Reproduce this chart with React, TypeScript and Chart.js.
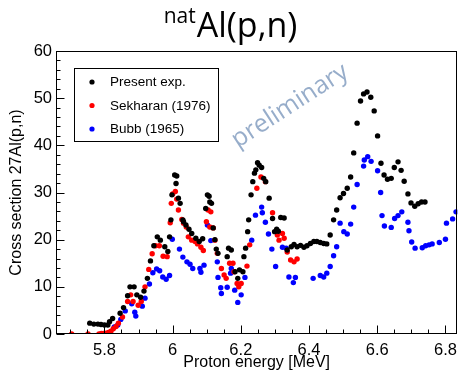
import { useEffect, useRef } from 'react';
import { Chart, registerables } from 'chart.js';
Chart.register(...registerables);

const W = 464;
const H = 370;

const X_MIN = 5.658;
const X_MAX = 6.835;
const Y_MIN = 0;
const Y_MAX = 60;

const X_MAJOR_TICKS = [5.8, 6.0, 6.2, 6.4, 6.6, 6.8];
const X_MINOR_TICKS = [5.7, 5.75, 5.85, 5.9, 5.95, 6.05, 6.1, 6.15, 6.25, 6.3, 6.35, 6.45, 6.5, 6.55, 6.65, 6.7, 6.75];
const Y_MAJOR_TICKS = [0, 10, 20, 30, 40, 50, 60];
const Y_MINOR_TICKS = [2, 4, 6, 8, 12, 14, 16, 18, 22, 24, 26, 28, 32, 34, 36, 38, 42, 44, 46, 48, 52, 54, 56, 58];

const SERIES_LABELS = ['Present exp.', 'Sekharan (1976)', 'Bubb (1965)'];
const SERIES_COLORS = ['#000000', '#ff0000', '#0000ff'];

const presentE = [5.757, 5.769, 5.781, 5.79, 5.8, 5.81, 5.815, 5.824, 5.846, 5.856, 5.868, 5.875, 5.887, 5.895, 5.906, 5.916, 5.926, 5.935, 5.945, 5.955, 5.964, 5.977, 5.986, 5.991, 5.995, 5.998, 6.006, 6.01, 6.012, 6.017, 6.022, 6.03, 6.032, 6.039, 6.048, 6.056, 6.068, 6.078, 6.088, 6.097, 6.102, 6.107, 6.109, 6.114, 6.119, 6.124, 6.128, 6.133, 6.16, 6.164, 6.172, 6.183, 6.191, 6.196, 6.206, 6.209, 6.214, 6.22, 6.223, 6.23, 6.235, 6.24, 6.244, 6.249, 6.254, 6.261, 6.267, 6.273, 6.283, 6.293, 6.299, 6.305, 6.31, 6.317, 6.327, 6.336, 6.348, 6.356, 6.365, 6.375, 6.385, 6.394, 6.404, 6.414, 6.423, 6.433, 6.443, 6.452, 6.462, 6.472, 6.481, 6.491, 6.501, 6.512, 6.522, 6.531, 6.541, 6.551, 6.56, 6.57, 6.581, 6.591, 6.601, 6.611, 6.62, 6.63, 6.641, 6.65, 6.661, 6.67, 6.679, 6.69, 6.699, 6.71, 6.72, 6.73, 6.74];
const presentXS = [2.3, 2.1, 2.1, 2.0, 1.9, 1.9, 2.6, 3.3, 4.4, 5.6, 8.1, 10.0, 10.0, 8.3, 7.8, 9.1, 11.8, 15.5, 18.7, 20.6, 19.9, 18.5, 17.5, 20.6, 24.2, 29.5, 33.7, 31.9, 33.5, 28.8, 27.7, 24.2, 23.8, 23.1, 22.2, 21.3, 20.3, 19.6, 20.2, 26.6, 29.5, 29.2, 28.0, 27.7, 22.5, 20.0, 18.0, 17.1, 16.4, 18.2, 17.8, 13.2, 11.8, 13.6, 13.2, 16.4, 18.2, 21.7, 24.2, 29.5, 32.3, 34.1, 34.8, 36.3, 35.8, 35.3, 33.0, 32.3, 28.8, 24.5, 21.7, 22.2, 21.8, 24.7, 24.6, 17.8, 18.5, 19.0, 18.5, 18.8, 18.4, 18.7, 19.2, 19.6, 19.6, 19.4, 19.2, 19.1, 21.0, 24.2, 26.3, 28.9, 29.8, 30.9, 33.3, 38.4, 44.7, 49.4, 50.9, 51.3, 50.2, 47.3, 42.0, 36.2, 33.7, 32.8, 33.0, 35.3, 36.5, 34.7, 32.4, 29.7, 27.8, 27.1, 27.6, 28.0, 28.0];

const sekharanE = [5.704, 5.752, 5.784, 5.791, 5.797, 5.805, 5.812, 5.819, 5.826, 5.834, 5.841, 5.853, 5.868, 5.877, 5.884, 5.899, 5.908, 5.919, 5.93, 5.94, 5.95, 5.961, 5.972, 5.984, 5.993, 5.996, 6.0, 6.008, 6.012, 6.017, 6.027, 6.032, 6.04, 6.046, 6.056, 6.066, 6.073, 6.083, 6.09, 6.099, 6.104, 6.112, 6.109, 6.119, 6.124, 6.131, 6.143, 6.151, 6.157, 6.167, 6.177, 6.18, 6.189, 6.194, 6.201, 6.218, 6.226, 6.247, 6.259, 6.272, 6.293, 6.307, 6.312, 6.322, 6.327, 6.336, 6.346, 6.356, 6.365];
const sekharanXS = [0, 0, 0, 0.1, 0.1, 0.15, 0.35, 0.6, 1.1, 1.6, 2.3, 3.6, 6.9, 8.3, 6.9, 6.1, 6.9, 10.0, 13.7, 17.0, 18.7, 18.7, 16.5, 16.4, 23.6, 27.7, 29.7, 30.2, 28.6, 26.3, 24.3, 23.5, 22.7, 20.6, 19.9, 19.6, 19.1, 18.4, 17.7, 23.8, 26.3, 25.9, 22.7, 22.5, 19.9, 17.1, 13.9, 12.5, 11.8, 15.0, 15.0, 13.2, 10.7, 10.0, 10.7, 14.4, 18.9, 30.9, 33.3, 32.3, 25.7, 21.0, 19.9, 21.3, 20.3, 17.4, 15.7, 15.3, 15.9];

const bubbE = [5.829, 5.839, 5.848, 5.861, 5.88, 5.889, 5.892, 5.911, 5.919, 5.932, 5.942, 5.953, 5.962, 5.971, 5.981, 5.991, 5.999, 6.02, 6.03, 6.042, 6.051, 6.059, 6.08, 6.083, 6.092, 6.102, 6.112, 6.131, 6.133, 6.141, 6.143, 6.16, 6.17, 6.172, 6.182, 6.191, 6.201, 6.212, 6.232, 6.243, 6.261, 6.263, 6.272, 6.281, 6.291, 6.302, 6.322, 6.333, 6.341, 6.354, 6.36, 6.412, 6.433, 6.443, 6.452, 6.462, 6.472, 6.481, 6.491, 6.502, 6.512, 6.522, 6.531, 6.541, 6.56, 6.562, 6.572, 6.582, 6.601, 6.61, 6.614, 6.621, 6.641, 6.651, 6.661, 6.672, 6.69, 6.693, 6.701, 6.711, 6.732, 6.742, 6.752, 6.761, 6.782, 6.8, 6.803, 6.821, 6.831];
const bubbXS = [1.5, 1.9, 3.1, 4.9, 6.4, 4.6, 3.8, 5.9, 7.6, 10.6, 13.0, 13.8, 13.4, 12.1, 11.6, 12.4, 20.1, 18.0, 16.3, 15.3, 14.8, 13.9, 13.9, 13.1, 14.6, 23.1, 19.8, 15.3, 12.0, 9.8, 8.6, 9.9, 12.9, 13.9, 9.3, 6.7, 8.3, 12.0, 19.9, 25.2, 26.9, 25.7, 23.7, 21.2, 18.0, 14.3, 18.4, 18.2, 12.1, 10.9, 12.0, 11.8, 12.4, 12.1, 12.9, 14.3, 16.6, 18.5, 23.5, 21.7, 21.2, 23.3, 26.9, 31.7, 35.6, 36.9, 37.6, 36.6, 34.6, 30.0, 25.1, 22.9, 22.6, 24.5, 25.1, 25.9, 23.7, 21.9, 19.5, 18.2, 18.3, 18.7, 18.9, 19.1, 19.4, 20.1, 23.5, 24.4, 25.9];

const TITLE_SUP = 'nat';
const TITLE_MAIN = 'Al(p,n)';
const X_TITLE = 'Proton energy [MeV]';
const Y_TITLE = 'Cross section 27Al(p,n)';
const WATERMARK = 'preliminary';

const AXIS_FONT = '"Liberation Sans", Arial, sans-serif';
const TITLE_FONT = '"Open Sans", sans-serif';

function pts(xs: number[], ys: number[]) {
  return xs.map((x, i) => ({ x, y: ys[i] }));
}

const decorPlugin = {
  id: 'decor',
  beforeDatasetsDraw(chart: any) {
    const ctx = chart.ctx as CanvasRenderingContext2D;
    ctx.save();
    ctx.translate(290, 106);
    ctx.rotate((-33 * Math.PI) / 180);
    ctx.font = `25px ${TITLE_FONT}`;
    ctx.fillStyle = '#97adca';
    ctx.textAlign = 'center';
    ctx.textBaseline = 'middle';
    ctx.fillText(WATERMARK, 0, 0);
    ctx.restore();
  },
  afterDatasetsDraw(chart: any) {
    const ctx = chart.ctx as CanvasRenderingContext2D;
    const xs = chart.scales.x;
    const ys = chart.scales.y;
    const a = chart.chartArea;
    ctx.save();
    ctx.strokeStyle = '#000';
    ctx.lineWidth = 1;
    ctx.strokeRect(Math.round(a.left) + 0.5, Math.round(a.top) + 0.5, Math.round(a.right - a.left) - 1, Math.round(a.bottom - a.top) - 1);
    const bottom = Math.round(a.bottom) - 0.5;
    const left = Math.round(a.left) + 0.5;
    ctx.beginPath();
    X_MAJOR_TICKS.forEach((v) => {
      const px = Math.round(xs.getPixelForValue(v)) + 0.5;
      ctx.moveTo(px, bottom);
      ctx.lineTo(px, bottom - 8);
    });
    X_MINOR_TICKS.forEach((v) => {
      const px = Math.round(xs.getPixelForValue(v)) + 0.5;
      ctx.moveTo(px, bottom);
      ctx.lineTo(px, bottom - 4);
    });
    Y_MAJOR_TICKS.forEach((v) => {
      const py = Math.round(ys.getPixelForValue(v)) + 0.5;
      ctx.moveTo(left, py);
      ctx.lineTo(left + 8, py);
    });
    Y_MINOR_TICKS.forEach((v) => {
      const py = Math.round(ys.getPixelForValue(v)) + 0.5;
      ctx.moveTo(left, py);
      ctx.lineTo(left + 4, py);
    });
    ctx.stroke();

    const lx = 74.5, ly = 68.5, lw = 144, lh = 73;
    ctx.fillStyle = '#fff';
    ctx.fillRect(lx, ly, lw, lh);
    ctx.strokeStyle = '#000';
    ctx.strokeRect(lx, ly, lw, lh);
    const rows = [82, 105.5, 129];
    ctx.font = `13.5px ${AXIS_FONT}`;
    ctx.textBaseline = 'middle';
    ctx.textAlign = 'left';
    chart.data.datasets.forEach((ds: any, i: number) => {
      ctx.fillStyle = ds.backgroundColor;
      ctx.beginPath();
      ctx.arc(92, rows[i], 2.6, 0, Math.PI * 2);
      ctx.fill();
      ctx.fillStyle = '#000';
      ctx.fillText(ds.label, 110, rows[i] + 0.5);
    });
    ctx.restore();
  },
  afterDraw(chart: any) {
    const ctx = chart.ctx as CanvasRenderingContext2D;
    const a = chart.chartArea;
    ctx.save();
    ctx.fillStyle = '#000';
    ctx.font = `34px ${TITLE_FONT}`;
    const wMain = ctx.measureText(TITLE_MAIN).width;
    ctx.font = `21px ${TITLE_FONT}`;
    const wSup = ctx.measureText(TITLE_SUP).width;
    const x0 = 230 - (wMain + wSup) / 2;
    ctx.textBaseline = 'alphabetic';
    ctx.textAlign = 'left';
    ctx.fillText(TITLE_SUP, x0, 23);
    ctx.font = `34px ${TITLE_FONT}`;
    ctx.fillText(TITLE_MAIN, x0 + wSup + 1, 37);
    ctx.font = `16px ${AXIS_FONT}`;
    ctx.textAlign = 'center';
    ctx.textBaseline = 'alphabetic';
    ctx.fillText(X_TITLE, (a.left + a.right) / 2, 367);
    ctx.save();
    ctx.translate(21, (a.top + a.bottom) / 2);
    ctx.rotate(-Math.PI / 2);
    ctx.fillText(Y_TITLE, 0, 0);
    ctx.restore();
    ctx.restore();
  },
};

export default function App() {
  const ref = useRef<HTMLCanvasElement>(null);
  useEffect(() => {
    const canvas = ref.current;
    if (!canvas) return;
    const datasets = [
      { label: SERIES_LABELS[0], data: pts(presentE, presentXS), backgroundColor: SERIES_COLORS[0] },
      { label: SERIES_LABELS[1], data: pts(sekharanE, sekharanXS), backgroundColor: SERIES_COLORS[1] },
      { label: SERIES_LABELS[2], data: pts(bubbE, bubbXS), backgroundColor: SERIES_COLORS[2] },
    ].map((d) => ({
      ...d,
      borderColor: d.backgroundColor,
      borderWidth: 0,
      pointRadius: 2.7,
      pointHoverRadius: 2.7,
      pointStyle: 'circle',
      showLine: false,
    }));
    const chart = new Chart(canvas, {
      type: 'scatter',
      data: { datasets },
      options: {
        responsive: false,
        devicePixelRatio: 1,
        animation: false,
        events: [],
        layout: { padding: { top: 51, right: 2, left: 0, bottom: 0 } },
        plugins: { legend: { display: false }, tooltip: { enabled: false }, title: { display: false } },
        scales: {
          x: {
            type: 'linear',
            min: X_MIN,
            max: X_MAX,
            afterFit: (s: any) => { s.height = 36; },
            grid: { display: false, drawTicks: false },
            border: { display: false },
            ticks: {
              stepSize: 0.2,
              includeBounds: false,
              autoSkip: false,
              maxRotation: 0,
              padding: 7,
              color: '#000',
              font: { family: AXIS_FONT, size: 16.5 },
              callback: (v: any) => {
                const n = Number(v);
                const k = Math.round(n * 5);
                if (Math.abs(n * 5 - k) > 1e-6) return '';
                return String(Math.round(n * 10) / 10);
              },
            },
          },
          y: {
            type: 'linear',
            min: Y_MIN,
            max: Y_MAX,
            afterFit: (s: any) => { s.width = 56; },
            grid: { display: false, drawTicks: false },
            border: { display: false },
            ticks: {
              stepSize: 10,
              padding: 4,
              color: '#000',
              font: { family: AXIS_FONT, size: 16.5 },
            },
          },
        },
      },
      plugins: [decorPlugin],
    } as any);
    return () => chart.destroy();
  }, []);
  return (
    <div style={{ position: 'fixed', left: 0, top: 0, width: W, height: H, background: '#fff' }}>
      <canvas ref={ref} width={W} height={H} style={{ width: W, height: H, display: 'block' }} />
    </div>
  );
}
